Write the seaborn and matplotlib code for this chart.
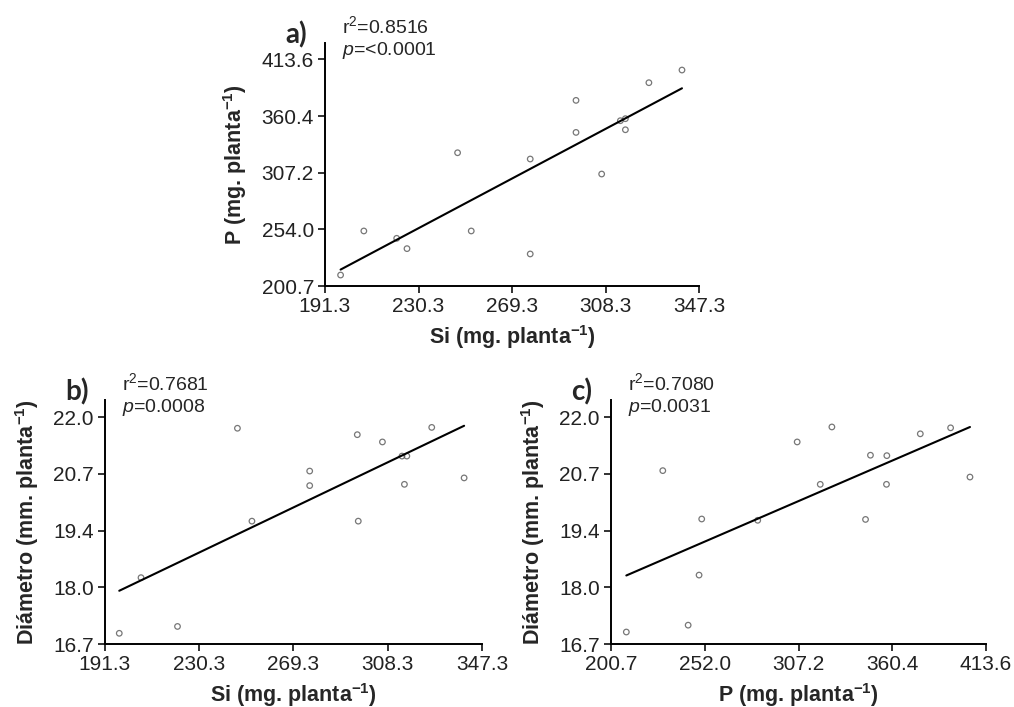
import matplotlib
matplotlib.use("Agg")
import matplotlib.pyplot as plt
import seaborn as sns
import numpy as np
import pandas as pd

# ---------------- data ----------------
# Panel a: Si vs P
si_a = [197.8, 207.5, 221.2, 225.5, 246.6, 252.3, 276.9, 276.9, 296.0, 296.0,
        306.7, 314.5, 316.6, 316.6, 326.4, 340.2]
p_a = [211.0, 252.4, 245.5, 235.8, 325.9, 252.4, 320.0, 230.8, 375.1, 345.0,
       305.9, 356.0, 357.9, 347.5, 391.7, 403.6]

# Panel b: Si vs Diámetro
si_b = [197.2, 206.2, 221.3, 246.1, 252.1, 276.0, 276.0, 295.7, 296.1, 306.1,
        314.2, 316.2, 315.2, 326.5, 339.9]
diam_b = [16.95, 18.25, 17.11, 21.74, 19.57, 20.74, 20.40, 21.59, 19.57, 21.42,
          21.09, 21.09, 20.43, 21.76, 20.58]

# Panel c: P vs Diámetro
p_c = [209.4, 230.1, 244.5, 250.7, 252.2, 284.0, 306.4, 319.5, 326.1, 345.2,
       348.0, 357.1, 357.3, 376.3, 393.5, 404.5]
diam_c = [16.98, 20.75, 17.14, 18.31, 19.62, 19.59, 21.42, 20.43, 21.77, 19.61,
          21.11, 20.43, 21.10, 21.61, 21.75, 20.60]

si_ticks = [191.3, 230.3, 269.3, 308.3, 347.3]
si_labels = ["191.3", "230.3", "269.3", "308.3", "347.3"]
p_ticks = [200.7, 253.925, 307.15, 360.375, 413.6]
p_labels_y = ["200.7", "254.0", "307.2", "360.4", "413.6"]
p_labels_x = ["200.7", "252.0", "307.2", "360.4", "413.6"]
d_ticks = [16.7, 18.025, 19.35, 20.675, 22.0]
d_labels = ["16.7", "18.0", "19.4", "20.7", "22.0"]

stats = {
    "a": ("0.8516", "<0.0001"),
    "b": ("0.7681", "0.0008"),
    "c": ("0.7080", "0.0031"),
}

# ---------------- style ----------------
sns.set_theme(style="ticks")
plt.rcParams["font.family"] = ["Liberation Sans", "DejaVu Sans"]
plt.rcParams["mathtext.fontset"] = "custom"
plt.rcParams["mathtext.rm"] = "Liberation Sans"
plt.rcParams["mathtext.it"] = "Liberation Sans:italic"
plt.rcParams["mathtext.bf"] = "Liberation Sans:bold"

fig = plt.figure(figsize=(10.14, 7.07), dpi=100)

W, H = 1014, 707
def axes_px(left, right, top, bottom):
    return fig.add_axes([left / W, (H - bottom) / H, (right - left) / W, (bottom - top) / H])

ax_a = axes_px(325, 699, 43, 286)
ax_b = axes_px(105, 482, 400, 644)
ax_c = axes_px(611, 986, 400, 644)

def draw(ax, x, y, xlim, ylim, xt, xl, yt, yl, xlabel, ylabel, tag):
    df = pd.DataFrame({"x": x, "y": y})
    sns.regplot(data=df, x="x", y="y", ax=ax, ci=None,
                scatter_kws=dict(s=16, facecolors="none", edgecolors="#555555", linewidths=0.9),
                line_kws=dict(color="black", lw=1.5))
    ax.set_xlim(*xlim)
    ax.set_ylim(*ylim)
    ax.set_xticks(xt)
    ax.set_xticklabels(xl)
    ax.set_yticks(yt)
    ax.set_yticklabels(yl)
    for s in ["top", "right"]:
        ax.spines[s].set_visible(False)
    for s in ["left", "bottom"]:
        ax.spines[s].set_linewidth(1.4)
        ax.spines[s].set_color("black")
    ax.tick_params(axis="both", direction="out", length=5, width=1.3,
                   labelsize=15, pad=3, colors="#222222")
    ax.set_xlabel(xlabel, fontsize=15.5, fontweight="bold", labelpad=5)
    ax.set_ylabel(ylabel, fontsize=15.5, fontweight="bold", labelpad=9)
    r2, p = stats[tag]
    ax.text(0.045, 1.07, r"r$^{2}$=" + r2, transform=ax.transAxes,
            fontsize=14, va="center", ha="left")
    ax.text(0.045, 0.97, r"$\it{p}$=" + p, transform=ax.transAxes,
            fontsize=14, va="center", ha="left")
    ax.text(-0.105, 1.035, tag + ")", transform=ax.transAxes, fontsize=20,
            fontweight="bold", va="center", ha="left", family=["Lato", "DejaVu Sans"])

unit = r" (mg. planta$^{\mathbf{-1}}$)"
draw(ax_a, si_a, p_a, (191.3, 347.3), (200.7, 429.0), si_ticks, si_labels,
     p_ticks, p_labels_y, "Si" + unit, "P" + unit, "a")
draw(ax_b, si_b, diam_b, (191.3, 347.3), (16.7, 22.4), si_ticks, si_labels,
     d_ticks, d_labels, "Si" + unit, r"Diámetro (mm. planta$^{\mathbf{-1}}$)", "b")
draw(ax_c, p_c, diam_c, (200.7, 413.6), (16.7, 22.4), p_ticks, p_labels_x,
     d_ticks, d_labels, "P" + unit, r"Diámetro (mm. planta$^{\mathbf{-1}}$)", "c")

fig.savefig("out.png", dpi=100)
